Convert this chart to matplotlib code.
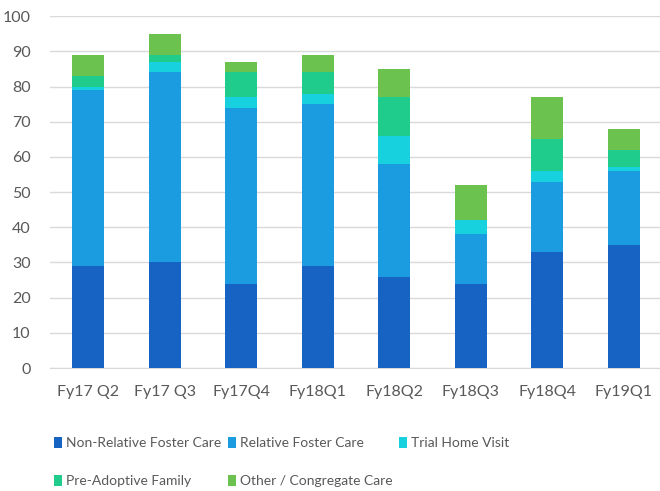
import matplotlib
matplotlib.use('Agg')
from matplotlib import pyplot as plt
from matplotlib.patches import Patch
import numpy as np

plt.rcParams['font.family'] = ['Lato', 'DejaVu Sans']

quarters = ['Fy17 Q2', 'Fy17 Q3', 'Fy17Q4', 'Fy18Q1', 'Fy18Q2', 'Fy18Q3', 'Fy18Q4', 'Fy19Q1']
non_relative = [29, 30, 24, 29, 26, 24, 33, 35]
relative = [50, 54, 50, 46, 32, 14, 20, 21]
trial_home = [1, 3, 3, 3, 8, 4, 3, 1]
pre_adoptive = [3, 2, 7, 6, 11, 0, 9, 5]
other_congregate = [6, 6, 3, 5, 8, 10, 12, 6]

series = [
    ('Non-Relative Foster Care', non_relative, '#1763c4'),
    ('Relative Foster Care', relative, '#1b9be0'),
    ('Trial Home Visit', trial_home, '#17d2de'),
    ('Pre-Adoptive Family', pre_adoptive, '#1fcc8c'),
    ('Other / Congregate Care', other_congregate, '#6cc24e'),
]

fig = plt.figure(figsize=(6.6, 4.91), dpi=100)
ax = fig.add_axes([0.076, 0.2505, 0.927, 0.7165])

x = np.arange(len(quarters))
bottom = np.zeros(len(quarters))
handles = []
for name, vals, col in series:
    ax.bar(x, vals, width=0.42, bottom=bottom, color=col, zorder=3)
    bottom += np.array(vals)
    handles.append(Patch(facecolor=col, label=name))

ax.set_xlim(-0.5, 7.5)
ax.set_ylim(0, 100)
ax.set_yticks(range(0, 101, 10))
ax.set_xticks(x)
ax.set_xticklabels(quarters)
ax.tick_params(axis='both', length=0, labelsize=11.5, colors='#595959')
ax.tick_params(axis='y', pad=14)
ax.tick_params(axis='x', pad=12)
ax.grid(axis='y', color='#d9d9d9', linewidth=1, zorder=0)
for s in ['top', 'right', 'left']:
    ax.spines[s].set_visible(False)
ax.spines['bottom'].set_color('#d9d9d9')

# column-major order so rows read NR, R, Trial / PA, Other
order = [0, 3, 1, 4, 2]
fig.legend([handles[i] for i in order], [handles[i].get_label() for i in order],
           ncol=3, loc='center left', bbox_to_anchor=(54 / 660, 1 - 462 / 491),
           frameon=False, fontsize=10, handlelength=0.55, handleheight=0.9,
           handletextpad=0.3, columnspacing=0.5, labelspacing=1.85,
           borderpad=0, borderaxespad=0, labelcolor='#595959')

fig.savefig('out.png', dpi=100)
